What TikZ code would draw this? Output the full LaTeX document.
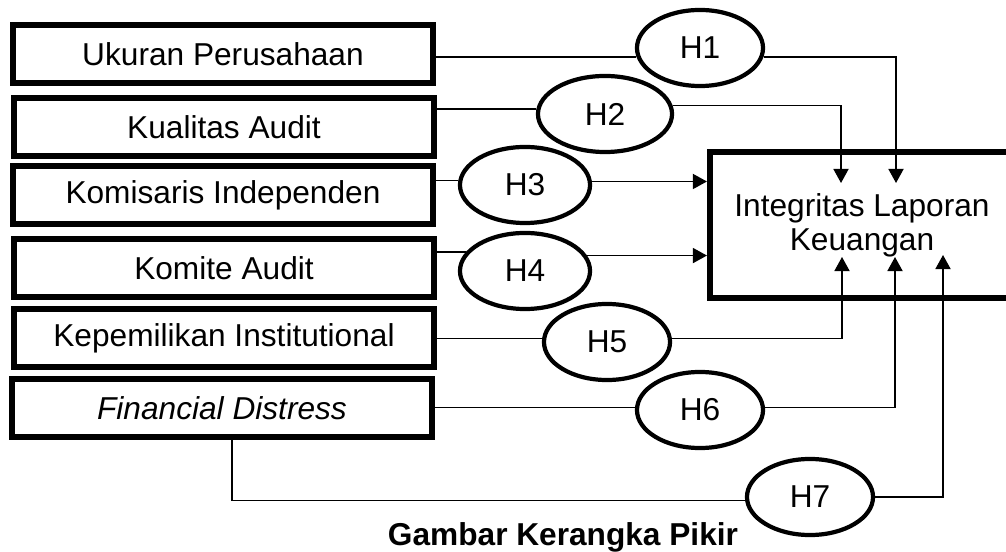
\documentclass[tikz,border=0pt]{standalone}
\usepackage{fontspec}
\setmainfont{Liberation Sans}
\usetikzlibrary{shapes.geometric,arrows.meta}

\begin{document}
\begin{tikzpicture}[x=0.01cm, y=-0.01cm, font=\fontsize{9}{9.7}\selectfont,
    var/.style={draw, line width=1.5pt, minimum width=4.2cm, minimum height=0.58cm, inner sep=0pt},
    hyp/.style={draw, ellipse, line width=1.2pt, minimum width=1.26cm, minimum height=0.76cm, inner sep=0pt},
    arr/.style={-{Triangle[length=4pt, width=4.3pt]}}]
    \clip (0, 0) rectangle (1006, 552);

    \node (uk) [var] at (223, 54) {Ukuran Perusahaan};
    \node (ka) [var] at (224, 127) {Kualitas Audit};
    \node (ki) [var] at (223, 195) {Komisaris Independen};
    \node (kom) [var] at (224, 268) {Komite Audit};
    \node (kep) [var] at (224, 338) {Kepemilikan Institutional};
    \node (fd) [var] at (222, 408) {\textit{Financial Distress}};

    \node (h1) [hyp] at (700, 48) {H1};
    \node (h2) [hyp, minimum width=1.34cm] at (605, 114) {H2};
    \node (h3) [hyp, minimum width=1.3cm] at (525, 185) {H3};
    \node (h4) [hyp, minimum width=1.3cm] at (525, 271) {H4};
    \node (h5) [hyp] at (607, 342) {H5};
    \node (h6) [hyp] at (700, 410) {H6};
    \node (h7) [hyp] at (810, 497) {H7};

    \node (ilk) [draw, line width=1.7pt, minimum width=3.04cm, minimum height=1.46cm, align=center] at (862, 225) {Integritas Laporan\\Keuangan};
    \node (cap) at (563, 537) {\bfseries Gambar Kerangka Pikir};

    \coordinate (t1) at (896, 183);
    \coordinate (t2) at (841, 183);
    \coordinate (t5) at (842, 257);
    \coordinate (t6) at (895, 257);
    \coordinate (t7) at (943, 255);

    \draw (uk.east |- h1.188) -- (h1.188);
    \draw (ka.east |- h2.176) -- (h2.176);
    \draw (ki.east |- h3.176) -- (h3.176);
    \draw (kom.east |- h4.162) -- (h4.162);
    \draw (kep.east |- h5.177) -- (h5.177);
    \draw (fd.east |- h6.178) -- (h6.178);
    \draw ([xshift=0.1cm]fd.south) |- (h7.183);

    \draw[arr] (h1.352) -| (t1);
    \draw[arr] (h2.7) -| (t2);
    \draw[arr] (h3.3) -- (h3.3 -| ilk.west);
    \draw[arr] (h4.14) -- (h4.14 -| ilk.west);
    \draw[arr] (h5.3) -| (t5);
    \draw[arr] (h6.2) -| (t6);
    \draw[arr] (h7.east) -| (t7);
\end{tikzpicture}
\end{document}
